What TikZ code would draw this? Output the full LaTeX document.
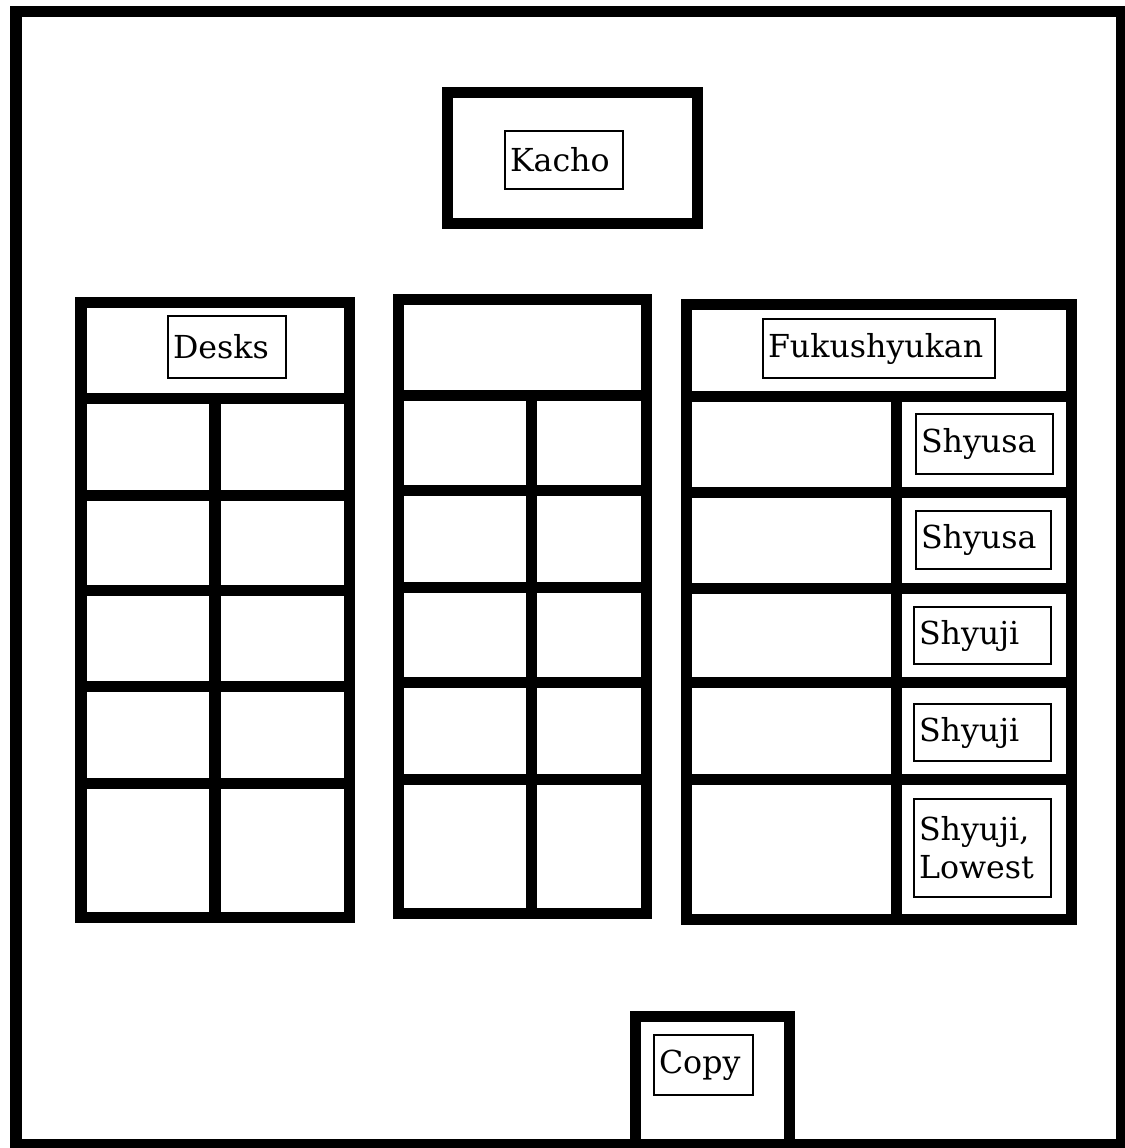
\documentclass[tikz,border=0pt]{standalone}
\usepackage{fontspec}
\setmainfont{DejaVu Serif}
\usepackage{tikz}

\newcommand{\tagfont}{\fontsize{9}{10.8}\selectfont}

\begin{document}
\begin{tikzpicture}[x=0.01cm, y=-0.01cm,
    wall/.style={line width=0.11cm},
    tag/.style={draw, line width=0.02cm, inner xsep=0.05cm, inner ysep=0.02cm,
                anchor=north west, align=left, font=\tagfont}]
    \useasboundingbox (0,0) rectangle (1125,1148);

    % Room
    \draw[wall] (16,11) rectangle (1121,1144);

    % Kacho desk
    \draw[wall] (447,92) rectangle (697,223);
    \node[tag, text width=1.08cm, minimum height=0.58cm] (kacho) at (504,130) {Kacho};

    % Left block
    \draw[wall] (81,302) rectangle (349,917);
    \draw[wall] (81,398) -- (349,398);
    \draw[wall] (215,398) -- (215,917);
    \foreach \y in {495,590,686,783}
        \draw[wall] (81,\y) -- (349,\y);
    \node[tag, text width=1.08cm, minimum height=0.62cm] (desks) at (167,315) {Desks};

    % Middle block
    \draw[wall] (398,299) rectangle (646,913);
    \draw[wall] (398,395) -- (646,395);
    \draw[wall] (531,395) -- (531,913);
    \foreach \y in {490,587,682,779}
        \draw[wall] (398,\y) -- (646,\y);

    % Right block
    \draw[wall] (686,304) rectangle (1071,919);
    \draw[wall] (686,396) -- (1071,396);
    \draw[wall] (896,396) -- (896,919);
    \foreach \y in {492,588,682,779}
        \draw[wall] (686,\y) -- (1071,\y);
    \node[tag, text width=2.22cm, minimum height=0.59cm] (fuku) at (762,318) {Fukushyukan};
    \node[tag, text width=1.27cm, minimum height=0.60cm] (shyusa1) at (915,413) {Shyusa};
    \node[tag, text width=1.25cm, minimum height=0.58cm] (shyusa2) at (915,510) {Shyusa};
    \node[tag, text width=1.27cm, minimum height=0.57cm] (shyuji1) at (913,606) {Shyuji};
    \node[tag, text width=1.27cm, minimum height=0.57cm] (shyuji2) at (913,703) {Shyuji};
    \node[tag, text width=1.27cm, minimum height=0.98cm] (lowest) at (913,798) {Shyuji,\\Lowest};

    % Copy machine
    \draw[wall] (635,1144) -- (635,1016) -- (789,1016) -- (789,1144);
    \node[tag, text width=0.89cm, minimum height=0.60cm] (copy) at (653,1034) {Copy};
\end{tikzpicture}
\end{document}
